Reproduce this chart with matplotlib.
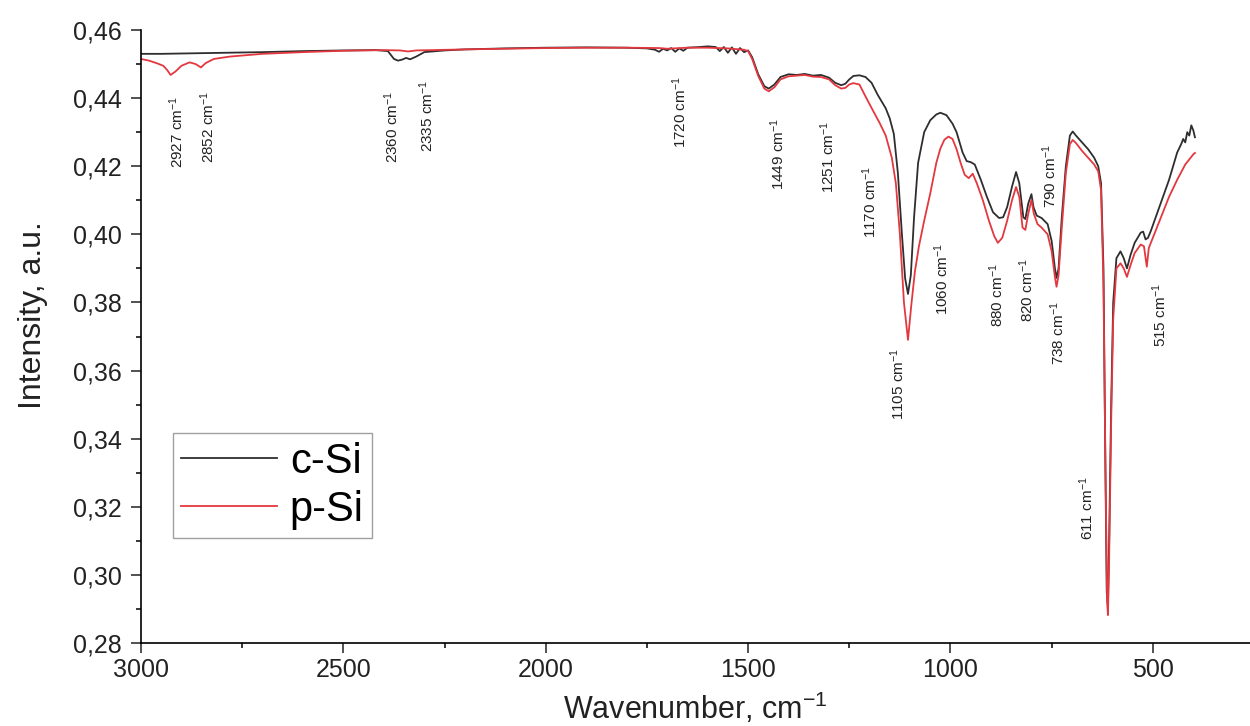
import numpy as np
import matplotlib
matplotlib.use("Agg")
import matplotlib.pyplot as plt
from matplotlib.ticker import MultipleLocator, FuncFormatter


# =========================
# Data
# =========================

c_si_wn = [
    3000, 2950, 2900, 2850, 2800, 2700, 2600, 2500, 2420, 2390,
    2375, 2365, 2355, 2345, 2335, 2320, 2300, 2250, 2200, 2100,
    2000, 1900, 1800, 1750, 1730, 1720, 1710, 1700, 1690, 1680,
    1670, 1660, 1650, 1620, 1600, 1580, 1570, 1560, 1550, 1540,
    1530, 1520, 1510, 1500, 1490, 1475, 1460, 1449, 1435, 1420,
    1400, 1380, 1360, 1340, 1320, 1300, 1285, 1270, 1260, 1250,
    1240, 1225, 1210, 1195, 1180, 1170, 1160, 1150, 1140, 1130,
    1120, 1112, 1105, 1098, 1090, 1080, 1065, 1050, 1035, 1025,
    1010, 995, 985, 970, 960, 950, 940, 925, 910, 895,
    880, 870, 860, 848, 838, 830, 820, 815, 808, 800,
    795, 787, 775, 760, 750, 742, 738, 733, 725, 715,
    705, 698, 690, 675, 660, 645, 635, 628, 622, 618,
    614, 611, 608, 603, 598, 590, 580, 572, 564, 555,
    545, 530, 524, 518, 512, 505, 490, 475, 460, 450,
    440, 430, 425, 420, 415, 410, 405, 400, 396,
]
c_si_int = [
    0.4530, 0.4530, 0.4531, 0.4532, 0.4533, 0.4535, 0.4538, 0.4540, 0.4541, 0.4538,
    0.4515, 0.4510, 0.4513, 0.4518, 0.4514, 0.4522, 0.4535, 0.4540, 0.4543, 0.4546,
    0.4548, 0.4549, 0.4548, 0.4546, 0.4542, 0.4536, 0.4545, 0.4540, 0.4547, 0.4536,
    0.4546, 0.4539, 0.4548, 0.4550, 0.4552, 0.4550, 0.4538, 0.4550, 0.4533, 0.4549,
    0.4530, 0.4547, 0.4535, 0.4540, 0.4520, 0.4470, 0.4435, 0.4428, 0.4440, 0.4462,
    0.4470, 0.4468, 0.4471, 0.4466, 0.4468, 0.4460, 0.4445, 0.4438, 0.4442, 0.4455,
    0.4465, 0.4467, 0.4462, 0.4445, 0.4410, 0.4390, 0.4370, 0.4340, 0.4295, 0.4180,
    0.4000, 0.3870, 0.3825, 0.3880, 0.4050, 0.4210, 0.4300, 0.4335, 0.4352, 0.4357,
    0.4350, 0.4325, 0.4300, 0.4240, 0.4215, 0.4212, 0.4205, 0.4160, 0.4110, 0.4065,
    0.4048, 0.4050, 0.4080, 0.4140, 0.4183, 0.4150, 0.4050, 0.4045, 0.4090, 0.4118,
    0.4080, 0.4055, 0.4048, 0.4030, 0.3980, 0.3900, 0.3872, 0.3900, 0.4050, 0.4200,
    0.4290, 0.4302, 0.4290, 0.4270, 0.4250, 0.4225, 0.4200, 0.4150, 0.3900, 0.3400,
    0.2950, 0.2910, 0.3100, 0.3500, 0.3800, 0.3930, 0.3950, 0.3930, 0.3900, 0.3940,
    0.3975, 0.4005, 0.4008, 0.3985, 0.3990, 0.4010, 0.4060, 0.4110, 0.4160, 0.4200,
    0.4240, 0.4265, 0.4280, 0.4270, 0.4300, 0.4290, 0.4320, 0.4305, 0.4285,
]

p_si_wn = [
    3000, 2980, 2960, 2945, 2935, 2927, 2915, 2900, 2880, 2865,
    2852, 2840, 2820, 2780, 2700, 2600, 2500, 2400, 2360, 2340,
    2320, 2200, 2100, 2000, 1900, 1800, 1720, 1700, 1650, 1600,
    1550, 1510, 1500, 1490, 1475, 1460, 1449, 1435, 1420, 1400,
    1380, 1360, 1340, 1320, 1300, 1285, 1270, 1260, 1250, 1240,
    1225, 1210, 1190, 1175, 1160, 1145, 1135, 1125, 1115, 1105,
    1097, 1088, 1078, 1065, 1050, 1035, 1025, 1015, 1005, 995,
    985, 975, 965, 955, 945, 935, 920, 905, 892, 883,
    872, 860, 848, 838, 830, 822, 815, 808, 800, 794,
    785, 775, 760, 750, 742, 738, 733, 725, 715, 705,
    698, 690, 675, 660, 645, 635, 628, 622, 617, 613,
    611, 608, 603, 598, 590, 580, 572, 564, 555, 545,
    530, 522, 515, 510, 500, 480, 460, 440, 420, 400,
    396,
]
p_si_int = [
    0.4515, 0.4510, 0.4502, 0.4495, 0.4482, 0.4468, 0.4478, 0.4495, 0.4505, 0.4500,
    0.4490, 0.4503, 0.4515, 0.4522, 0.4530, 0.4535, 0.4539, 0.4541, 0.4540, 0.4537,
    0.4540, 0.4543, 0.4545, 0.4547, 0.4548, 0.4548, 0.4547, 0.4545, 0.4548, 0.4548,
    0.4546, 0.4542, 0.4538, 0.4515, 0.4465, 0.4428, 0.4420, 0.4432, 0.4455, 0.4464,
    0.4466, 0.4468, 0.4463, 0.4462, 0.4455, 0.4438, 0.4428, 0.4430, 0.4440, 0.4444,
    0.4440, 0.4405, 0.4360, 0.4327, 0.4290, 0.4225, 0.4150, 0.4000, 0.3800, 0.3690,
    0.3790, 0.3890, 0.3965, 0.4040, 0.4120, 0.4210, 0.4252, 0.4278, 0.4287, 0.4280,
    0.4250, 0.4210, 0.4175, 0.4165, 0.4178, 0.4150, 0.4100, 0.4040, 0.3995, 0.3975,
    0.3990, 0.4040, 0.4100, 0.4139, 0.4110, 0.4020, 0.4013, 0.4060, 0.4101, 0.4060,
    0.4030, 0.4020, 0.4000, 0.3950, 0.3875, 0.3846, 0.3880, 0.4020, 0.4180, 0.4265,
    0.4277, 0.4268, 0.4245, 0.4225, 0.4205, 0.4185, 0.4130, 0.3850, 0.3300, 0.2920,
    0.2882, 0.3050, 0.3450, 0.3750, 0.3900, 0.3915, 0.3900, 0.3875, 0.3910, 0.3945,
    0.3970, 0.3965, 0.3905, 0.3960, 0.3990, 0.4050, 0.4110, 0.4160, 0.4205, 0.4235,
    0.4239,
]

# peak annotations
peak_labels = [2927, 2852, 2360, 2335, 1720, 1449, 1251, 1170,
               1105, 1060, 880, 820, 790, 738, 611, 515]
label_x = [2911, 2834, 2380, 2293, 1668, 1426, 1303, 1199,
           1130, 1021, 885, 811, 754, 735, 663, 483]
label_y = [0.4195, 0.4209, 0.4209, 0.4242, 0.4254, 0.4130, 0.4121, 0.3989,
           0.3455, 0.3763, 0.3728, 0.3743, 0.4077, 0.3616, 0.3103, 0.3669]


# =========================
# Plot
# =========================

plt.rcParams["font.family"] = ["Liberation Sans", "DejaVu Sans"]
plt.rcParams["mathtext.fontset"] = "custom"
plt.rcParams["mathtext.rm"] = "Liberation Sans"
plt.rcParams["mathtext.it"] = "Liberation Sans"

fig = plt.figure(figsize=(12.5, 7.26), dpi=100)
ax = fig.add_axes([141 / 1250, 83 / 726, 1109 / 1250, 613 / 726])

ax.plot(c_si_wn, c_si_int, color="#2e2e2e", lw=1.3, label="c-Si")
ax.plot(p_si_wn, p_si_int, color="#e3383f", lw=1.3, label="p-Si")

for wn, lx, ly in zip(peak_labels, label_x, label_y):
    ax.text(lx, ly, f"{wn} cm$^{{-1}}$", rotation=90, ha="center",
            va="bottom", fontsize=11, color="#222222")

ax.set_xlim(3000, 260)
ax.set_ylim(0.28, 0.46)

ax.spines["top"].set_visible(False)
ax.spines["right"].set_visible(False)
for s in ("left", "bottom"):
    ax.spines[s].set_linewidth(1.2)

ax.xaxis.set_major_locator(MultipleLocator(500))
ax.xaxis.set_minor_locator(MultipleLocator(250))
ax.yaxis.set_major_locator(MultipleLocator(0.02))
ax.yaxis.set_minor_locator(MultipleLocator(0.01))
ax.yaxis.set_major_formatter(FuncFormatter(lambda v, p: f"{v:.2f}".replace(".", ",")))

ax.tick_params(which="major", direction="out", length=7, width=1.1,
               labelsize=18, colors="#222222")
ax.tick_params(which="minor", direction="out", length=3.5, width=1.1)
ax.tick_params(axis="x", pad=4)
ax.tick_params(axis="y", pad=7)

ax.set_xlabel("Wavenumber, cm$^{-1}$", fontsize=22, color="#222222")
ax.set_ylabel("Intensity, a.u.", fontsize=23, color="#222222")
ax.xaxis.set_label_coords(0.5, -0.077)
ax.yaxis.set_label_coords(-0.084, 0.535)

leg = ax.legend(loc="lower left", bbox_to_anchor=(0.029, 0.171),
                borderaxespad=0, fontsize=30, frameon=True, fancybox=False,
                handlelength=2.3, handletextpad=0.3, labelspacing=0.2,
                borderpad=0.2)
leg.get_frame().set_edgecolor("#888888")
leg.get_frame().set_linewidth(1.0)

fig.savefig("out.png", dpi=100)
